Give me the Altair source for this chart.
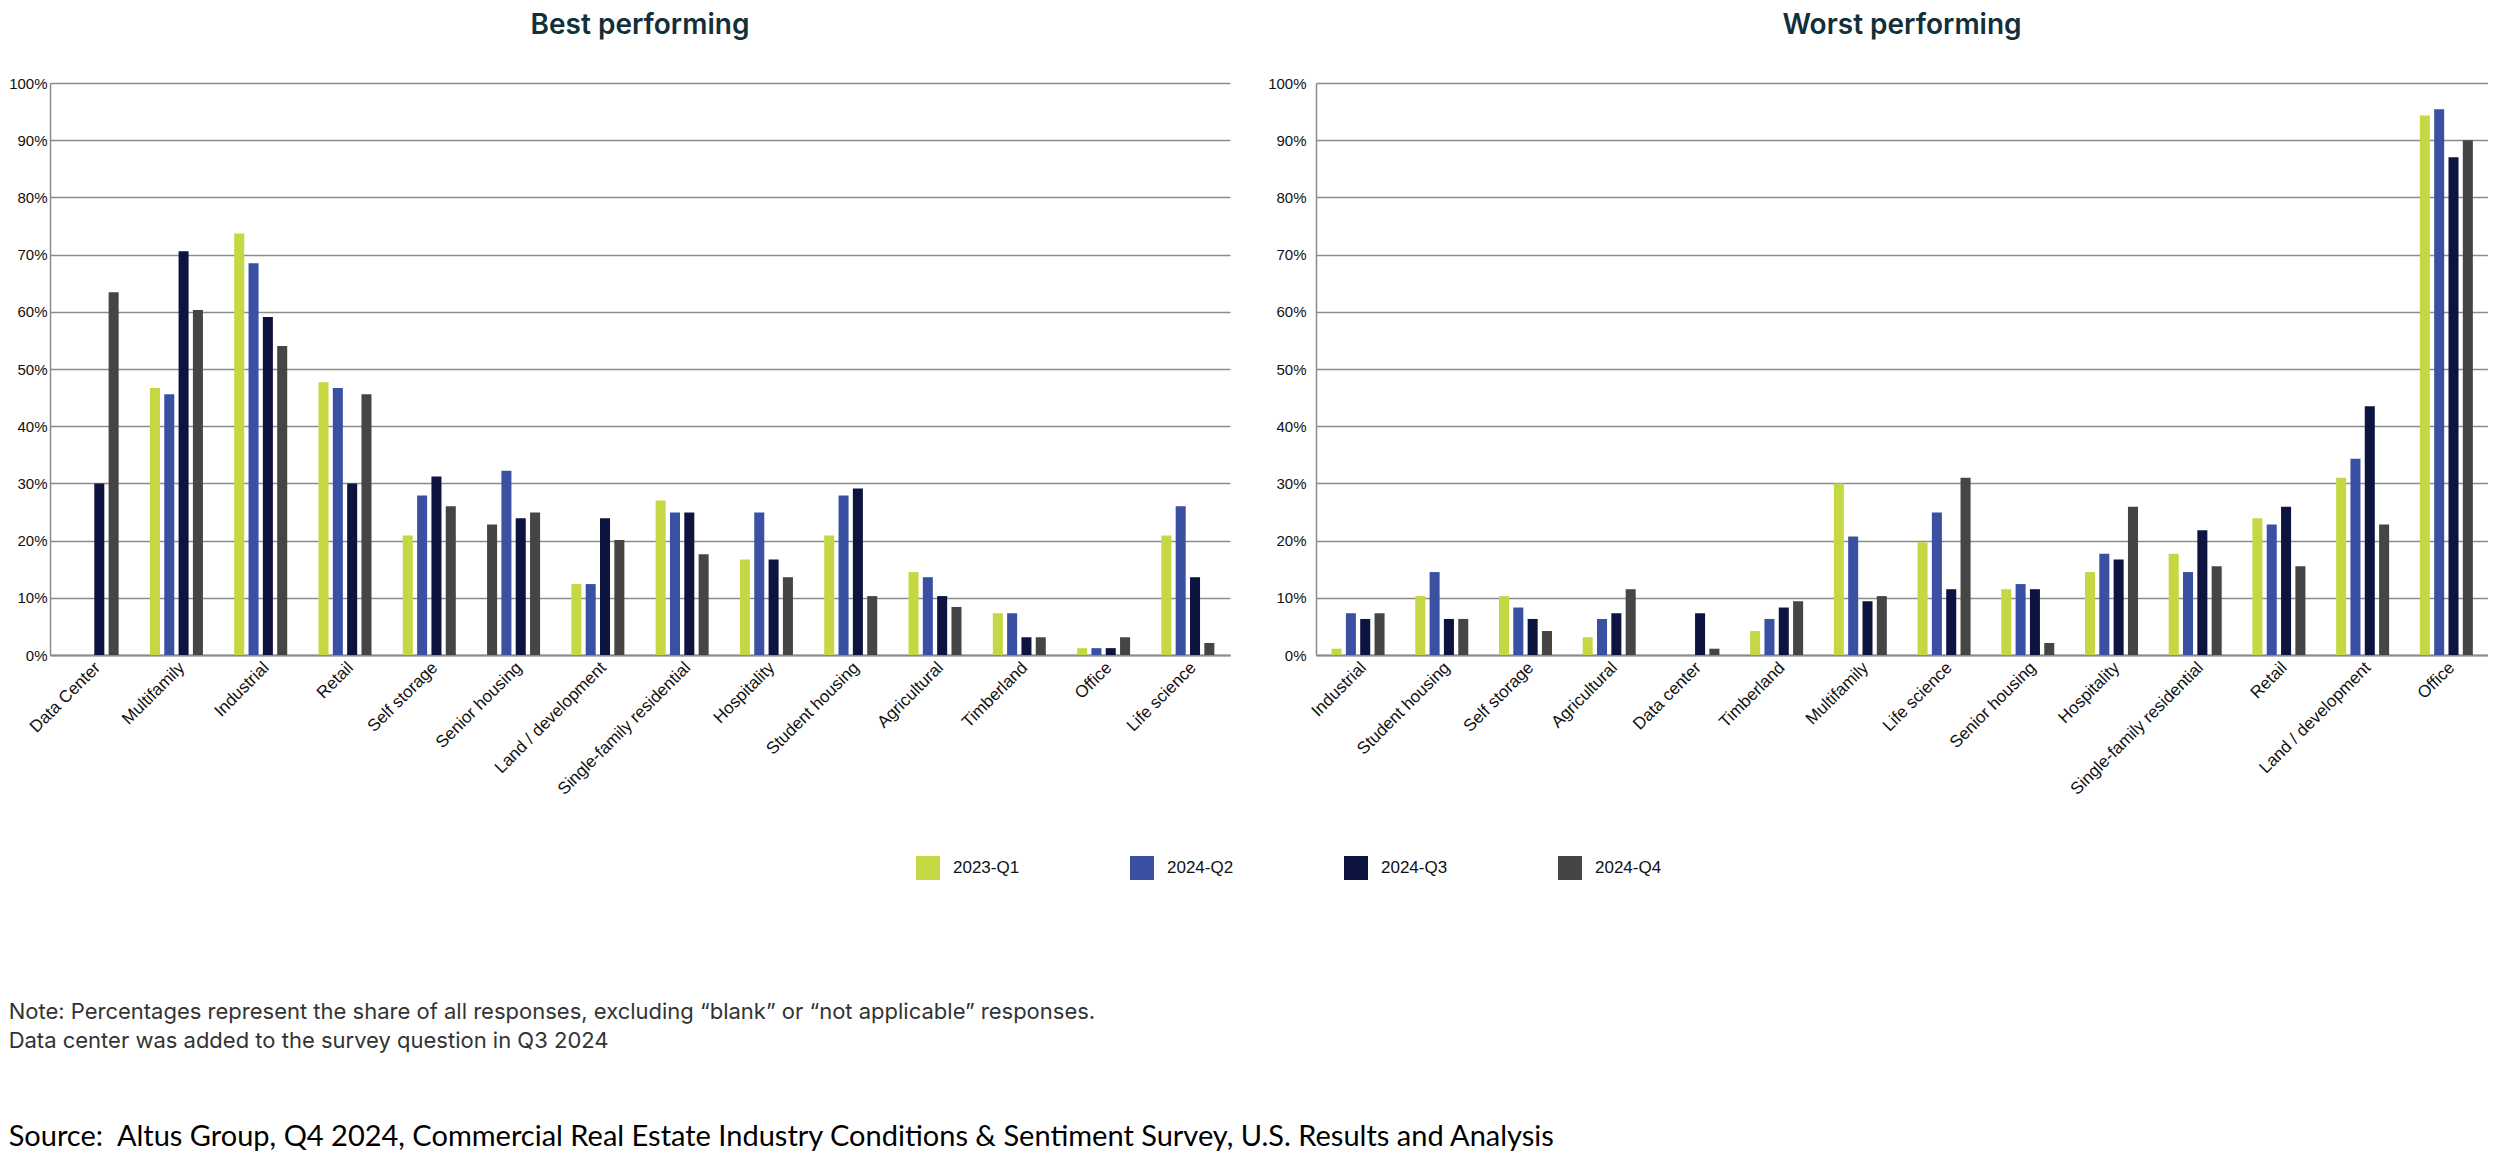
import altair as alt
import pandas as pd

series = ["2023-Q1", "2024-Q2", "2024-Q3", "2024-Q4"]
colors = ["#c5d843", "#3a51a3", "#0e1440", "#454545"]

best_categories = ["Data Center", "Multifamily", "Industrial", "Retail", "Self storage",
                   "Senior housing", "Land / development", "Single-family residential",
                   "Hospitality", "Student housing", "Agricultural", "Timberland",
                   "Office", "Life science"]
best_2023_q1 = [None, 46.7, 73.7, 47.7, 20.9, 22.8, 12.4, 27.0, 16.7, 20.9, 14.5, 7.3, 1.2, 20.9]
best_2024_q2 = [None, 45.6, 68.5, 46.7, 27.9, 32.2, 12.4, 24.9, 24.9, 27.9, 13.6, 7.3, 1.2, 26.0]
best_2024_q3 = [30.0, 70.6, 59.1, 30.0, 31.2, 23.9, 23.9, 24.9, 16.7, 29.1, 10.3, 3.1, 1.2, 13.6]
best_2024_q4 = [63.4, 60.3, 54.0, 45.6, 26.0, 24.9, 20.1, 17.6, 13.6, 10.3, 8.4, 3.1, 3.1, 2.1]

worst_categories = ["Industrial", "Student housing", "Self storage", "Agricultural",
                    "Data center", "Timberland", "Multifamily", "Life science",
                    "Senior housing", "Hospitality", "Single-family residential",
                    "Retail", "Land / development", "Office"]
worst_2023_q1 = [1.1, 10.3, 10.3, 3.1, None, 4.2, 30.0, 19.7, 11.5, 14.5, 17.7, 23.9, 31.0, 94.3]
worst_2024_q2 = [7.3, 14.5, 8.3, 6.3, None, 6.3, 20.7, 24.9, 12.4, 17.7, 14.5, 22.8, 34.3, 95.4]
worst_2024_q3 = [6.3, 6.3, 6.3, 7.3, 7.3, 8.3, 9.4, 11.5, 11.5, 16.7, 21.8, 25.9, 43.5, 87.0]
worst_2024_q4 = [7.3, 6.3, 4.2, 11.5, 1.1, 9.4, 10.3, 31.0, 2.1, 25.9, 15.5, 15.5, 22.8, 90.0]

note_lines = [
    "Note: Percentages represent the share of all responses, excluding \u201cblank\u201d or \u201cnot applicable\u201d responses.",
    "Data center was added to the survey question in Q3 2024",
]
source_line = "Source:\u00a0 Altus Group, Q4 2024, Commercial Real Estate Industry Conditions & Sentiment Survey, U.S. Results and Analysis"


def long_df(panel, cats, cols):
    rows = []
    for i, c in enumerate(cats):
        for s, vals in zip(series, cols):
            v = vals[i]
            rows.append({"panel": panel, "category": c, "series": s,
                         "value": None if v is None else v / 100.0})
    return pd.DataFrame(rows)


best_df = long_df("best", best_categories, [best_2023_q1, best_2024_q2, best_2024_q3, best_2024_q4])
worst_df = long_df("worst", worst_categories, [worst_2023_q1, worst_2024_q2, worst_2024_q3, worst_2024_q4])

GRID = "#8c8c8c"
LABEL_FONT = "Liberation Sans"

legend = alt.Legend(
    orient="none", legendX=866, legendY=773, direction="horizontal", title=None,
    symbolType="square", symbolSize=576, symbolStrokeWidth=0,
    labelFontSize=17, labelFont=LABEL_FONT, labelColor="#111111",
    labelOffset=13, columnPadding=110,
)


def panel(df, cats, title, width, ypad):
    color = alt.condition(
        "datum.panel == 'best' && datum.category == 'Senior housing' && datum.series == '2023-Q1'",
        alt.value("#454545"),
        alt.Color("series:N", scale=alt.Scale(domain=series, range=colors), legend=legend),
    )
    return alt.Chart(df).mark_bar().encode(
        x=alt.X("category:N", sort=cats,
                scale=alt.Scale(paddingInner=0.32, paddingOuter=0.16),
                axis=alt.Axis(title=None, labelAngle=-45, labelFontSize=17, labelFont=LABEL_FONT,
                              labelColor="#111111", ticks=False, domainColor=GRID, domainWidth=2,
                              labelPadding=4, labelLimit=400)),
        xOffset=alt.XOffset("series:N", sort=series,
                            scale=alt.Scale(paddingInner=0.3, paddingOuter=0.15)),
        y=alt.Y("value:Q", scale=alt.Scale(domain=[0, 1], nice=False),
                axis=alt.Axis(title=None, format=".0%",
                              values=[i / 10 for i in range(11)],
                              labelFontSize=15, labelFont=LABEL_FONT, labelColor="#111111",
                              labelPadding=ypad, ticks=False, gridColor=GRID, gridWidth=1.5,
                              domainColor=GRID, domainWidth=1.5)),
        color=color,
    ).properties(
        width=width, height=572,
        title=alt.Title(title, fontSize=28, font="Inter", fontWeight=600, color="#12303a",
                        offset=36, anchor="middle"),
    )


left = panel(best_df, best_categories, "Best performing", 1180, 3)
right = panel(worst_df, worst_categories, "Worst performing", 1172, 10)

chart = alt.hconcat(left, right, spacing=37).properties(
    padding={"left": 0, "top": 4, "right": 0, "bottom": 2},
    title=alt.Title(
        text=note_lines, subtitle=[source_line], orient="bottom", anchor="start",
        fontSize=22, font="Inter", fontWeight="normal", color="#333333", lineHeight=29,
        subtitleFontSize=29, subtitleFont="Lato", subtitleColor="#000000",
        subtitlePadding=70, offset=122,
    ),
).configure_view(stroke=None)

chart.save("out.html", embed_options={"renderer": "svg", "actions": False})
